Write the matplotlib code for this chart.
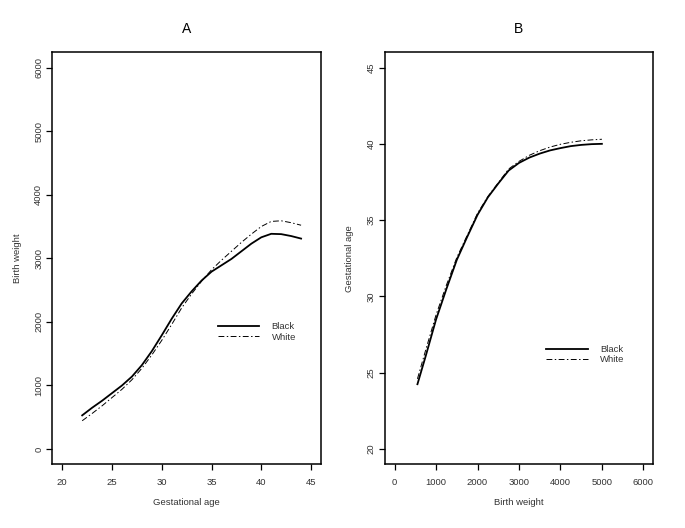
import matplotlib
matplotlib.use("Agg")
import matplotlib.pyplot as plt

plt.rcParams['font.family'] = ['Liberation Sans', 'DejaVu Sans']

# Panel A : poids de naissance selon l'age gestationnel
ga_weeks = [22, 23, 24, 25, 26, 27, 28, 29, 30, 31, 32, 33, 34, 35, 36, 37, 38, 39, 40, 41, 42, 43, 44]
bw_black = [530, 650, 760, 880, 1000, 1140, 1320, 1540, 1790, 2050, 2290, 2480, 2650, 2790, 2890,
            2990, 3110, 3230, 3330, 3385, 3380, 3350, 3310]
bw_white = [445, 560, 680, 810, 940, 1090, 1270, 1480, 1710, 1960, 2220, 2440, 2640, 2820, 2970,
            3110, 3250, 3380, 3500, 3580, 3590, 3560, 3520]

# Panel B : age gestationnel selon le poids de naissance
bw_grams = [550, 750, 1000, 1250, 1500, 1750, 2000, 2250, 2500, 2750, 3000, 3250, 3500, 3750,
            4000, 4250, 4500, 4750, 5000]
ga_black = [24.25, 26.1, 28.5, 30.5, 32.4, 33.9, 35.35, 36.5, 37.4, 38.25, 38.75, 39.1, 39.36,
            39.57, 39.72, 39.85, 39.93, 39.98, 40.0]
ga_white = [24.6, 26.5, 28.8, 30.75, 32.55, 34.0, 35.45, 36.55, 37.45, 38.35, 38.85, 39.25, 39.55,
            39.79, 39.97, 40.1, 40.2, 40.26, 40.3]

series_labels = ["Black", "White"]
xticks_a = [20, 25, 30, 35, 40, 45]
yticks_a = [0, 1000, 2000, 3000, 4000, 5000, 6000]
xticks_b = [0, 1000, 2000, 3000, 4000, 5000, 6000]
yticks_b = [20, 25, 30, 35, 40, 45]

fs = 6.8
txt_col = "#333333"
white_dash = (0, (6, 2.5, 1.5, 2.5))

fig = plt.figure(figsize=(6.85, 5.28), dpi=100)
ax_a = fig.add_axes([0.0764, 0.1206, 0.3922, 0.7804])
ax_b = fig.add_axes([0.5616, 0.1206, 0.3921, 0.7804])


def style_axis(ax, xticks, yticks):
    ax.set_xticks(xticks)
    ax.set_yticks(yticks)
    ax.tick_params(direction="out", length=4, width=0.9, labelsize=fs, colors="black",
                   labelcolor=txt_col, pad=2.5)
    ax.tick_params(axis="x", pad=6)
    for lab in ax.get_yticklabels():
        lab.set_rotation(90)
        lab.set_va("center")
    for sp in ax.spines.values():
        sp.set_linewidth(1.1)


# --- Panel A ---
ax_a.plot(ga_weeks, bw_black, color="black", lw=1.3, label=series_labels[0])
ax_a.plot(ga_weeks, bw_white, color="black", lw=0.7, linestyle=white_dash, label=series_labels[1])
ax_a.set_xlim(19, 46)
ax_a.set_ylim(-240, 6240)
style_axis(ax_a, xticks_a, yticks_a)
ax_a.set_xlabel("Gestational age", fontsize=fs, color=txt_col, labelpad=8)
ax_a.set_ylabel("Birth weight", fontsize=fs, color=txt_col, labelpad=9)
ax_a.set_title("A", fontsize=10, pad=14)
ax_a.legend(loc="center left", bbox_to_anchor=(0.6156, 0.321), frameon=False, fontsize=fs,
            handlelength=4.4, handletextpad=1.3, labelspacing=0.15, borderpad=0, borderaxespad=0,
            labelcolor=txt_col)

# --- Panel B ---
ax_b.plot(bw_grams, ga_black, color="black", lw=1.3, label=series_labels[0])
ax_b.plot(bw_grams, ga_white, color="black", lw=0.7, linestyle=white_dash, label=series_labels[1])
ax_b.set_xlim(-240, 6240)
ax_b.set_ylim(19, 46)
style_axis(ax_b, xticks_b, yticks_b)
ax_b.set_xlabel("Birth weight", fontsize=fs, color=txt_col, labelpad=8)
ax_b.set_ylabel("Gestational age", fontsize=fs, color=txt_col, labelpad=9)
ax_b.set_title("B", fontsize=10, pad=14)
ax_b.legend(loc="center left", bbox_to_anchor=(0.6005, 0.266), frameon=False, fontsize=fs,
            handlelength=4.4, handletextpad=1.3, labelspacing=0.15, borderpad=0, borderaxespad=0,
            labelcolor=txt_col)

fig.savefig("out.png", dpi=100)
